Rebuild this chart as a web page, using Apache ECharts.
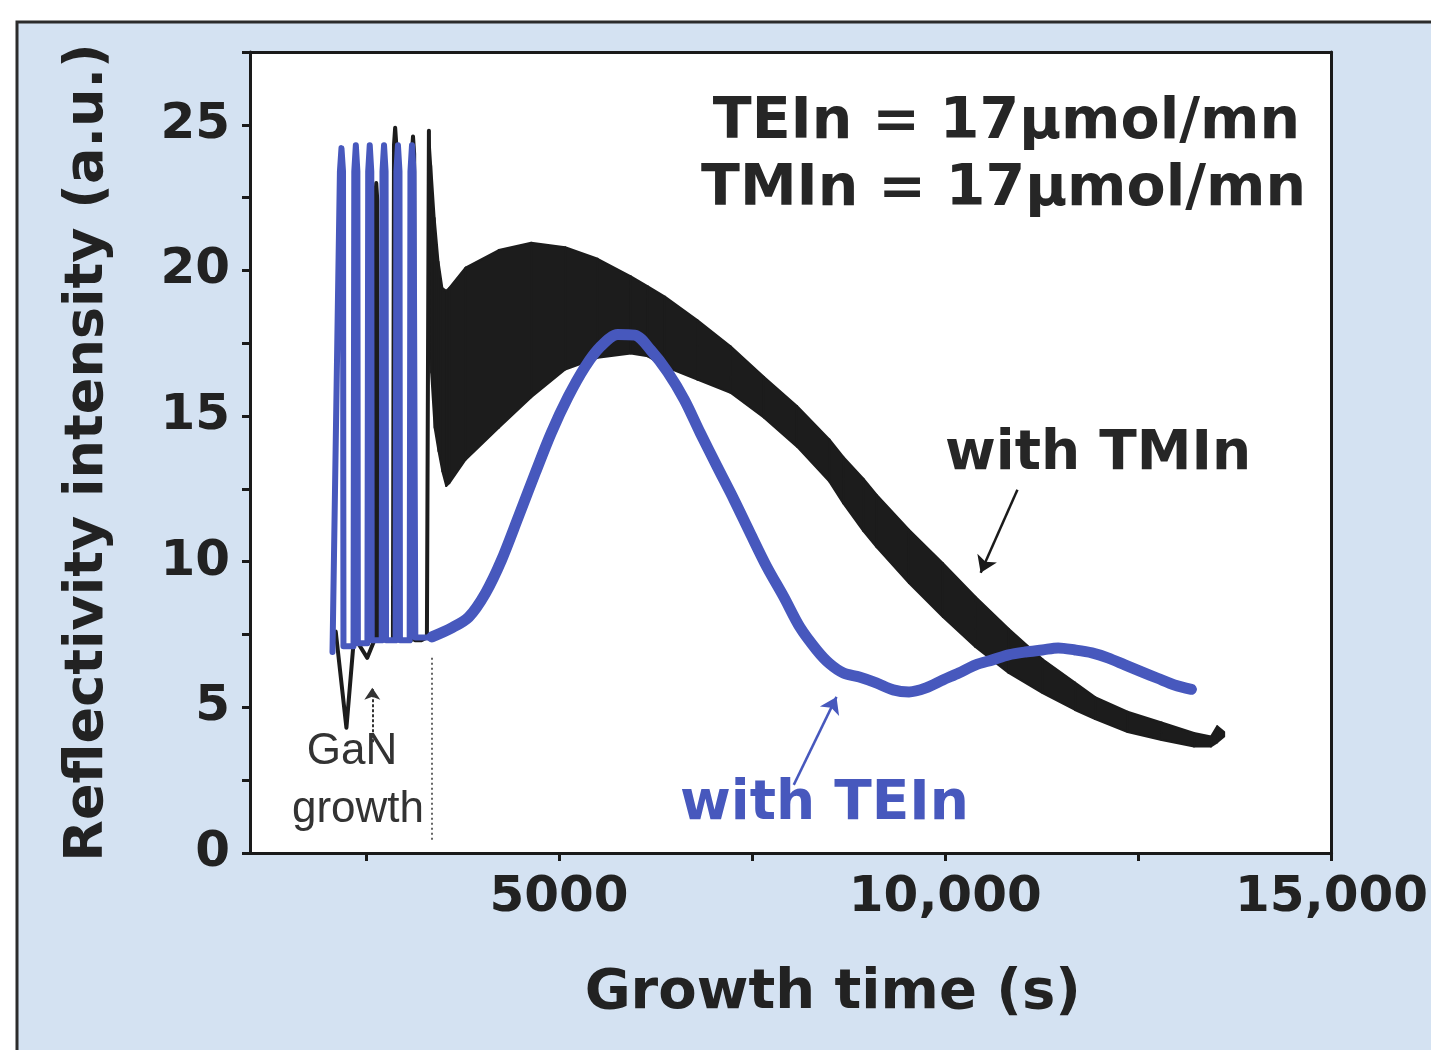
<!DOCTYPE html>
<html><head><meta charset="utf-8">
<script src="https://cdn.jsdelivr.net/npm/echarts@6/dist/echarts.min.js"></script>
<style>html,body{margin:0;padding:0;background:#fff}#c{width:1431px;height:1050px}</style>
</head><body><div id="c"></div>
<script>
// ---- axis ticks ----
const xTickMarks = [2500, 5000, 7500, 10000, 12500, 15000];
const xTickValues = [5000, 10000, 15000];
const xTickLabels = ['5000', '10,000', '15,000'];
const yTickMarks = [0, 2.5, 5, 7.5, 10, 12.5, 15, 17.5, 20, 22.5, 25, 27.5];
const yTickLabelValues = [0, 5, 10, 15, 20, 25];

// ---- with TEIn (blue): GaN growth oscillations ----
const teinGaNTime  = [2068, 2164, 2184, 2204, 2210, 2340, 2350, 2370, 2390, 2396, 2520, 2530, 2550, 2570, 2576, 2705, 2715, 2735, 2755, 2761, 2885, 2895, 2915, 2935, 2941, 3067, 3077, 3097, 3117, 3140, 3355];
const teinGaNValue = [6.9, 23.4, 24.2, 23.4, 7.1, 7.1, 23.4, 24.3, 23.4, 7.2, 7.2, 23.4, 24.3, 23.4, 7.3, 7.3, 23.4, 24.3, 23.4, 7.3, 7.3, 23.4, 24.3, 23.4, 7.3, 7.3, 23.4, 24.3, 23.4, 7.4, 7.4];

// ---- with TEIn (blue): InN growth ----
const teinTime  = [3355, 3612, 3831, 4050, 4256, 4474, 4693, 4899, 5118, 5337, 5542, 5761, 5980, 6186, 6405, 6623, 6829, 7048, 7267, 7473, 7691, 7910, 8116, 8335, 8502, 8682, 8888, 9107, 9326, 9531, 9750, 9969, 10175, 10394, 10612, 10818, 11037, 11256, 11462, 11680, 11899, 12105, 12324, 12543, 12749, 12967, 13186];
const teinValue = [7.42, 7.73, 8.1, 8.93, 10.06, 11.54, 13.05, 14.42, 15.66, 16.69, 17.4, 17.8, 17.78, 17.27, 16.52, 15.56, 14.42, 13.26, 12.12, 10.99, 9.82, 8.79, 7.76, 6.97, 6.5, 6.18, 6.04, 5.84, 5.6, 5.53, 5.67, 5.94, 6.18, 6.46, 6.63, 6.8, 6.9, 6.97, 7.04, 6.97, 6.87, 6.7, 6.46, 6.22, 6.0, 5.77, 5.62];

// ---- with TMIn (black): GaN growth oscillations ----
const tminGaNTime  = [2110, 2248, 2340, 2362, 2377, 2392, 2400, 2518, 2610, 2620, 2634, 2648, 2660, 2763, 2850, 2864, 2879, 2894, 2905, 2995, 3085, 3095, 3110, 3125, 3135, 3213, 3290, 3316];
const tminGaNValue = [7.6, 4.3, 7.2, 23.4, 24.0, 23.4, 7.2, 6.7, 7.3, 22.4, 23.0, 22.4, 7.3, 7.3, 7.3, 24.3, 24.9, 24.3, 7.3, 7.3, 7.3, 24.0, 24.6, 24.0, 7.3, 7.3, 7.4, 24.8];

// ---- with TMIn (black): fast-oscillation band, upper / lower envelopes ----
const bandTime  = [3316, 3345, 3390, 3440, 3490, 3540, 3580, 3790, 4220, 4640, 5080, 5500, 5930, 6150, 6370, 6790, 7220, 7650, 8080, 8500, 8680, 8940, 9110, 9530, 9970, 10390, 10820, 11260, 11680, 11940, 12360, 12800, 13220, 13440, 13520, 13610];
const bandUpper = [24.8, 23.6, 21.8, 20.3, 19.4, 19.3, 19.4, 20.1, 20.7, 20.95, 20.8, 20.4, 19.8, 19.45, 19.1, 18.3, 17.4, 16.35, 15.35, 14.2, 13.6, 12.85, 12.3, 11.1, 9.95, 8.8, 7.7, 6.65, 5.85, 5.35, 4.85, 4.48, 4.12, 4.0, 4.35, 4.15];
const bandLower = [24.8, 16.5, 14.6, 13.8, 13.1, 12.6, 12.7, 13.5, 14.6, 15.65, 16.6, 17.0, 17.15, 17.05, 16.7, 16.25, 15.8, 14.95, 13.95, 12.75, 12.0, 11.05, 10.5, 9.27, 8.1, 7.07, 6.18, 5.49, 4.91, 4.6, 4.15, 3.88, 3.66, 3.66, 3.8, 4.0];

// ---- annotation arrows (data coordinates) ----
const tminArrow = [[10934, 12.47], [10458, 9.62]];
const teinArrow = [[8039, 2.34], [8592, 5.36]];
const ganArrow  = [[2583, 3.8], [2583, 5.67]];
const ganDivider = [[3355, 6.7], [3355, 0.4]];

const BLUE = '#4758bd';
const DARK = '#1c1c1c';
const FONT = 'DejaVu Sans';

const chart = echarts.init(document.getElementById('c'), null, {renderer: 'canvas'});
const zip = (a, b) => a.map((v, i) => [v, b[i]]);

const axisLineStyle = {color: '#1a1a1a', width: 3};

const option = {
  animation: false,
  backgroundColor: '#ffffff',
  grid: {left: 250, right: 93, top: 52, bottom: 197, show: true, backgroundColor: '#ffffff', borderWidth: 0},
  xAxis: [{
    type: 'value', min: 1000, max: 15000,
    axisLine: {show: true, onZero: false, lineStyle: axisLineStyle},
    axisTick: {show: true, customValues: xTickMarks, length: 8, lineStyle: axisLineStyle},
    axisLabel: {customValues: xTickValues, formatter: v => xTickLabels[xTickValues.indexOf(v)],
      fontFamily: FONT, fontWeight: 'bold', fontSize: 50, color: '#222', margin: 20},
    splitLine: {show: false},
    name: 'Growth time (s)', nameLocation: 'middle', nameGap: 112,
    nameTextStyle: {fontFamily: FONT, fontWeight: 'bold', fontSize: 56, color: '#222', padding: [0, 0, 0, 84]}
  }, {
    type: 'value', position: 'top', min: 1000, max: 15000,
    axisLine: {show: true, onZero: false, lineStyle: axisLineStyle},
    axisTick: {show: false}, axisLabel: {show: false}, splitLine: {show: false}
  }],
  yAxis: [{
    type: 'value', min: 0, max: 27.5,
    axisLine: {show: true, onZero: false, lineStyle: axisLineStyle},
    axisTick: {show: true, customValues: yTickMarks, length: 8, lineStyle: axisLineStyle},
    axisLabel: {customValues: yTickLabelValues, fontFamily: FONT, fontWeight: 'bold', fontSize: 50, color: '#222', margin: 20,
      padding: [0, 0, 6, 0]},
    splitLine: {show: false},
    name: 'Reflectivity intensity (a.u.)', nameLocation: 'middle', nameGap: 135,
    nameTextStyle: {fontFamily: FONT, fontWeight: 'bold', fontSize: 54, color: '#222'}
  }, {
    type: 'value', position: 'right', min: 0, max: 27.5,
    axisLine: {show: true, onZero: false, lineStyle: axisLineStyle},
    axisTick: {show: false}, axisLabel: {show: false}, splitLine: {show: false}
  }],
  series: [
    {
      name: 'with TMIn band', type: 'custom', coordinateSystem: 'cartesian2d',
      xAxisIndex: 0, yAxisIndex: 0, z: 2, silent: true,
      data: bandTime.map((t, i) => [t, bandUpper[i], bandLower[i]]),
      encode: {x: 0, y: [1, 2]},
      renderItem: function (params, api) {
        const i = params.dataIndex;
        if (i >= bandTime.length - 1) return null;
        const a = api.coord([bandTime[i], bandUpper[i]]);
        const b = api.coord([bandTime[i + 1], bandUpper[i + 1]]);
        const c = api.coord([bandTime[i + 1], bandLower[i + 1]]);
        const d = api.coord([bandTime[i], bandLower[i]]);
        return {type: 'polygon', shape: {points: [a, b, c, d]},
          style: {fill: DARK, stroke: DARK, lineWidth: 2, lineJoin: 'round'}};
      }
    },
    {
      name: 'with TMIn GaN', type: 'line', xAxisIndex: 0, yAxisIndex: 0, z: 3,
      data: zip(tminGaNTime, tminGaNValue), showSymbol: false, symbol: 'none',
      lineStyle: {color: DARK, width: 4, join: 'round', cap: 'round'}
    },
    {
      name: 'with TEIn GaN', type: 'line', xAxisIndex: 0, yAxisIndex: 0, z: 4,
      data: zip(teinGaNTime, teinGaNValue), showSymbol: false, symbol: 'none',
      lineStyle: {color: BLUE, width: 6, join: 'round', cap: 'round'}
    },
    {
      name: 'with TEIn', type: 'line', xAxisIndex: 0, yAxisIndex: 0, z: 5,
      data: zip(teinTime, teinValue), showSymbol: false, symbol: 'none', smooth: 0.3,
      lineStyle: {color: BLUE, width: 11, cap: 'round', join: 'round'},
      markLine: {
        silent: true, animation: false, label: {show: false},
        symbol: ['none', 'arrow'], symbolSize: 16,
        data: [
          [{coord: tminArrow[0], lineStyle: {color: '#1a1a1a', width: 2.5, type: 'solid'}}, {coord: tminArrow[1]}],
          [{coord: teinArrow[0], lineStyle: {color: BLUE, width: 2.5, type: 'solid'}}, {coord: teinArrow[1]}],
          [{coord: ganArrow[0], lineStyle: {color: '#333', width: 2, type: [3, 2]}, symbolSize: 12}, {coord: ganArrow[1], symbolSize: 12}],
          [{coord: ganDivider[0], symbol: 'none', lineStyle: {color: '#333', width: 1.5, type: [2, 3]}}, {coord: ganDivider[1], symbol: 'none'}]
        ]
      }
    }
  ],
  graphic: [
    {type: 'rect', z: -100, silent: true, shape: {x: 17, y: 22, width: 1500, height: 1100},
      style: {fill: '#d4e2f2', stroke: '#2b2b2b', lineWidth: 3}},
    {type: 'text', z: 100, style: {x: 1300, y: 123, text: 'TEIn = 17µmol/mn', textAlign: 'right', textVerticalAlign: 'middle',
      fontFamily: FONT, fontWeight: 'bold', fontSize: 57, fill: '#262626'}},
    {type: 'text', z: 100, style: {x: 1306, y: 190, text: 'TMIn = 17µmol/mn', textAlign: 'right', textVerticalAlign: 'middle',
      fontFamily: FONT, fontWeight: 'bold', fontSize: 57, fill: '#262626'}},
    {type: 'text', z: 100, style: {x: 945, y: 455, text: 'with TMIn', textAlign: 'left', textVerticalAlign: 'middle',
      fontFamily: FONT, fontWeight: 'bold', fontSize: 55, fill: '#262626'}},
    {type: 'text', z: 100, style: {x: 680, y: 805, text: 'with TEIn', textAlign: 'left', textVerticalAlign: 'middle',
      fontFamily: FONT, fontWeight: 'bold', fontSize: 55, fill: BLUE}},
    {type: 'text', z: 100, style: {x: 352, y: 752, text: 'GaN', textAlign: 'center', textVerticalAlign: 'middle',
      fontFamily: 'Liberation Sans', fontSize: 44, fill: '#333'}},
    {type: 'text', z: 100, style: {x: 358, y: 810, text: 'growth', textAlign: 'center', textVerticalAlign: 'middle',
      fontFamily: 'Liberation Sans', fontSize: 44, fill: '#333'}}
  ]
};
chart.setOption(option);
</script>
</body></html>
